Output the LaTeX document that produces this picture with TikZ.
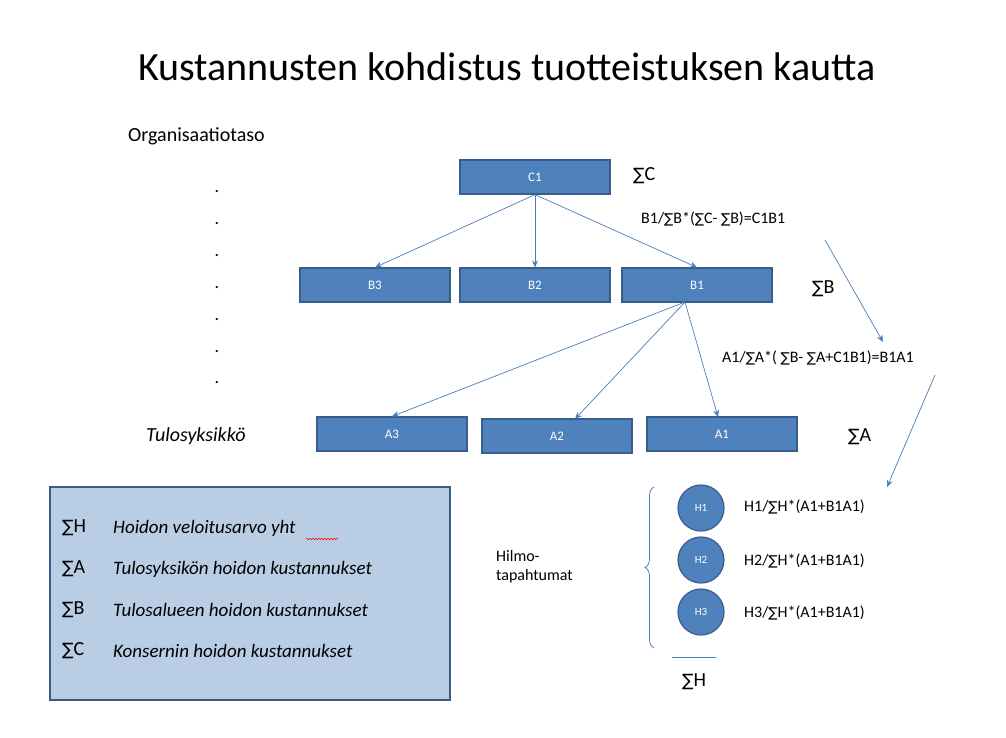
\documentclass[tikz,border=0pt]{standalone}
\usepackage{fontspec}
\setmainfont{Carlito}
\newfontfamily\djsig{DejaVu Sans}
\usetikzlibrary{arrows.meta,decorations.pathreplacing,decorations.pathmorphing}
\newcommand{\sig}{{\djsig\fontsize{0.85em}{1em}\selectfont ∑}}
\definecolor{bfill}{HTML}{4F81BD}
\definecolor{bdraw}{HTML}{385D8A}
\definecolor{lfill}{HTML}{B9CDE5}
\definecolor{ln}{HTML}{4A7EBB}
\tikzset{
 bx/.style={draw=bdraw,fill=bfill,line width=1.2pt,minimum width=150pt,minimum height=34pt,text=white,font=\fontsize{13}{15}\selectfont,inner sep=0pt},
 cr/.style={circle,draw=bdraw,fill=bfill,line width=1.2pt,minimum size=46pt,text=white,font=\fontsize{11}{13}\selectfont,inner sep=0pt},
 ar/.style={draw=ln,-{Stealth[length=7pt,width=6pt]},line width=0.7pt},
 fm/.style={font=\fontsize{16}{19}\selectfont,anchor=west,inner sep=0pt},
 lg/.style={font=\fontsize{19}{22}\selectfont\itshape,anchor=west,inner sep=0pt},
}
\begin{document}
\begin{tikzpicture}[x=1pt,y=-1pt]
\useasboundingbox (0,0) rectangle (1006,738);
\node[font=\fontsize{40}{46}\selectfont] (title) at (507,67) {Kustannusten kohdistus tuotteistuksen kautta};
\node[font=\fontsize{20}{24}\selectfont,anchor=west,inner sep=0pt] (org) at (128,136) {Organisaatiotaso};
\foreach \yy [count=\i] in {192,224,256,288,320,352,383}
  \node[font=\fontsize{18}{20}\selectfont,inner sep=0pt] (d\i) at (217,\yy) {.};
\node[bx] (C1) at (535,177) {C1};
\node[bx] (B3) at (375,285) {B3};
\node[bx] (B2) at (535,285) {B2};
\node[bx] (B1) at (697,285) {B1};
\node[bx] (A3) at (392,434) {A3};
\node[bx] (A2) at (557,436) {A2};
\node[bx] (A1) at (722,434) {A1};
\node[font=\fontsize{20}{24}\selectfont,anchor=west,inner sep=0pt] (sC) at (633,176) {\sig C};
\node[font=\fontsize{20}{24}\selectfont,anchor=west,inner sep=0pt] (sB) at (812,289) {\sig B};
\node[font=\fontsize{20}{24}\selectfont,anchor=west,inner sep=0pt] (sA) at (848,437) {\sig A};
\node[fm] (f1) at (641,219) {B1/\sig B*(\sig C- \sig B)=C1B1};
\node[fm] (f2) at (722,358) {A1/\sig A*( \sig B- \sig A+C1B1)=B1A1};
\node[font=\fontsize{20}{24}\selectfont\itshape,anchor=west,inner sep=0pt] (tul) at (146,436) {Tulosyksikkö};
\draw[ar] (C1.south) -- (B3.north);
\draw[ar] (C1.south) -- (B2.north);
\draw[ar] (C1.south) -- (B1.north);
\draw[ar] (685,302) -- (A3.north);
\draw[ar] (685,302) -- (575,419);
\draw[ar] (685,302) -- (718,417);
\coordinate (p1) at (825,240); \coordinate (q1) at (883,342);
\coordinate (p2) at (935,375); \coordinate (q2) at (887,487);
\draw[ar] (p1) -- (q1);
\draw[ar] (p2) -- (q2);
% legend
\node[draw=bdraw,fill=lfill,line width=1.2pt,minimum width=400pt,minimum height=213pt] (leg) at (250,593.5) {};
\foreach \yy/\s/\t [count=\i] in {528/H/Hoidon veloitusarvo yht,569/A/Tulosyksikön hoidon kustannukset,610/B/Tulosalueen hoidon kustannukset,651/C/Konsernin hoidon kustannukset}{
 \node[font=\fontsize{20}{24}\selectfont,anchor=west,inner sep=0pt] (ls\i) at (62,\yy) {\sig\s};
 \node[lg] (lt\i) at (113,\yy) {\t};
}
\draw[red,line width=0.5pt,decorate,decoration={snake,amplitude=0.8pt,segment length=3pt}] (306,539) -- (338,539);
% circles
\node[cr] (H1) at (701,508) {H1};
\node[cr] (H2) at (701,560) {H2};
\node[cr] (H3) at (701,612) {H3};
\node[fm] (h1) at (744,507) {H1/\sig H*(A1+B1A1)};
\node[fm] (h2) at (744,561) {H2/\sig H*(A1+B1A1)};
\node[fm] (h3) at (744,613) {H3/\sig H*(A1+B1A1)};
\draw[ln,line width=0.8pt,decorate,decoration={brace,amplitude=9pt,mirror}] (654,487) -- (654,648);
\node[font=\fontsize{16}{19}\selectfont,align=left,anchor=west,inner sep=0pt] (hil) at (496,567) {Hilmo-\\tapahtumat};
\coordinate (u1) at (672,657); \coordinate (u2) at (716,657);
\draw[ln,line width=0.8pt] (u1) -- (u2);
\node[font=\fontsize{20}{24}\selectfont] (sH) at (694,682) {\sig H};
\end{tikzpicture}
\end{document}
